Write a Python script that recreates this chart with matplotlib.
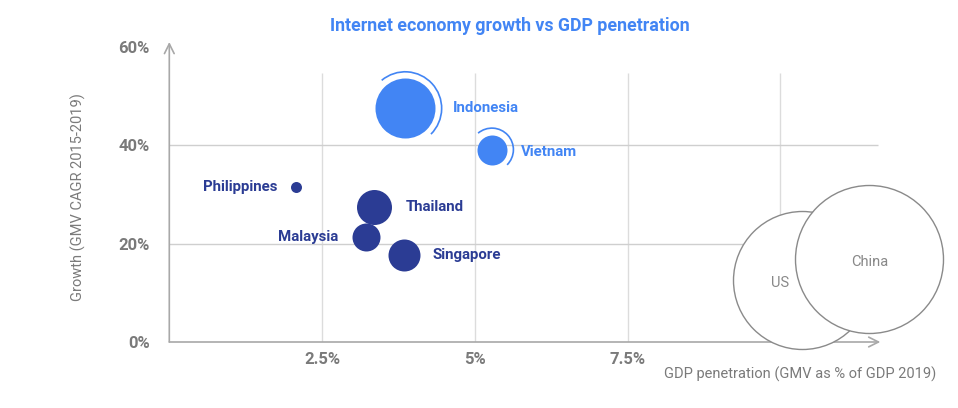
import matplotlib
matplotlib.use("Agg")
import matplotlib.pyplot as plt
from matplotlib.patches import Arc
from matplotlib import transforms

plt.rcParams['font.family'] = ['Roboto', 'DejaVu Sans']

# bubble data: GDP penetration (%), growth (%), bubble radius (px)
countries = ['Indonesia', 'Vietnam', 'Philippines', 'Thailand', 'Malaysia', 'Singapore']
gdp_pen = [3.86, 5.28, 2.08, 3.35, 3.22, 3.84]
growth = [47.5, 39.1, 31.6, 27.4, 21.3, 17.6]
radius = [30, 15, 5.5, 17.5, 14, 16]
highlight = [True, True, False, False, False, False]

# reference markets
ref_names = ['US', 'China']
ref_gdp_pen = [10.35, 11.45]
ref_growth = [12.6, 16.9]
ref_radius = [69, 74]

light_blue = '#4285F4'
navy = '#2B3C94'
grey = '#7a7a7a'

fig = plt.figure(figsize=(9.58, 4.08), dpi=100)
ax = fig.add_axes([169.3 / 958, 66 / 408, 711 / 958, 300 / 408])
ax.set_xlim(0, 711 / 61.1)
ax.set_ylim(0, 300 / 4.92)

for s in ax.spines.values():
    s.set_visible(False)

# grid
ax.vlines([2.5, 5, 7.5, 10], 0, 54.6, color='#dcdcdc', lw=1, zorder=0)
ax.hlines([20, 40], 0, 11.6, color='#cfcfcf', lw=1, zorder=0)

# axes with arrow heads
arrow = dict(arrowstyle='->,head_length=0.7,head_width=0.35', color='#a8a8a8', lw=1.2,
             shrinkA=0, shrinkB=0)
ax.annotate('', xy=(0, 1), xytext=(0, 0), xycoords='axes fraction', arrowprops=arrow, zorder=1)
ax.annotate('', xy=(1, 0), xytext=(0, 0), xycoords='axes fraction', arrowprops=arrow, zorder=1)

ax.set_xticks([2.5, 5, 7.5])
ax.set_xticklabels(['2.5%', '5%', '7.5%'])
ax.set_yticks([0, 20, 40, 60])
ax.set_yticklabels(['0%', '20%', '40%', '60%'])
ax.tick_params(length=0, labelsize=12, labelcolor=grey, pad=7)
for lab in ax.get_xticklabels() + ax.get_yticklabels():
    lab.set_fontweight('bold')
ax.tick_params(axis='y', pad=14)

# reference circles
ref_label_off = {'US': (-22, -3), 'China': (1, -3)}
for name, x, y, r in zip(ref_names, ref_gdp_pen, ref_growth, ref_radius):
    ax.scatter(x, y, s=(2 * r * 0.72) ** 2, facecolor='white', edgecolor='#8a8a8a',
               lw=1, zorder=3, clip_on=False)
    dx, dy = ref_label_off[name]
    ax.annotate(name, (x, y), xytext=(dx * 0.72, dy * 0.72), textcoords='offset points',
                ha='center', va='center', fontsize=10.5, color='#888888', zorder=4)

# country bubbles
for name, x, y, r, hl in zip(countries, gdp_pen, growth, radius, highlight):
    c = light_blue if hl else navy
    ax.scatter(x, y, s=(2 * r * 0.72) ** 2, color=c, lw=0, zorder=5)
    if hl:
        R = r + 6.5
        tr = fig.dpi_scale_trans + transforms.ScaledTranslation(x, y, ax.transData)
        ax.add_patch(Arc((0, 0), 2 * R / 100, 2 * R / 100, theta1=-45, theta2=130,
                         color=c, lw=1.2, transform=tr, zorder=5))

label_off = {'Indonesia': (48, 0), 'Vietnam': (29, -2), 'Philippines': (-19, 0),
             'Thailand': (32, 0), 'Malaysia': (-28, 0), 'Singapore': (29, 0)}
for name, x, y, hl in zip(countries, gdp_pen, growth, highlight):
    dx, dy = label_off[name]
    ax.annotate(name, (x, y), xytext=(dx * 0.72, dy * 0.72), textcoords='offset points',
                ha='left' if dx > 0 else 'right', va='center', fontsize=10.8, fontweight='bold',
                color=light_blue if hl else navy, zorder=6)

fig.text(510 / 958, 1 - 26 / 408, 'Internet economy growth vs GDP penetration',
         ha='center', va='center', fontsize=12.8, fontweight='bold', color=light_blue)
fig.text(936 / 958, 1 - 374 / 408, 'GDP penetration (GMV as % of GDP 2019)',
         ha='right', va='center', fontsize=10.5, color=grey)
fig.text(78 / 958, 1 - 197 / 408, 'Growth (GMV CAGR 2015-2019)',
         ha='center', va='center', rotation=90, fontsize=10.5, color=grey)

fig.savefig('out.png', dpi=100)
